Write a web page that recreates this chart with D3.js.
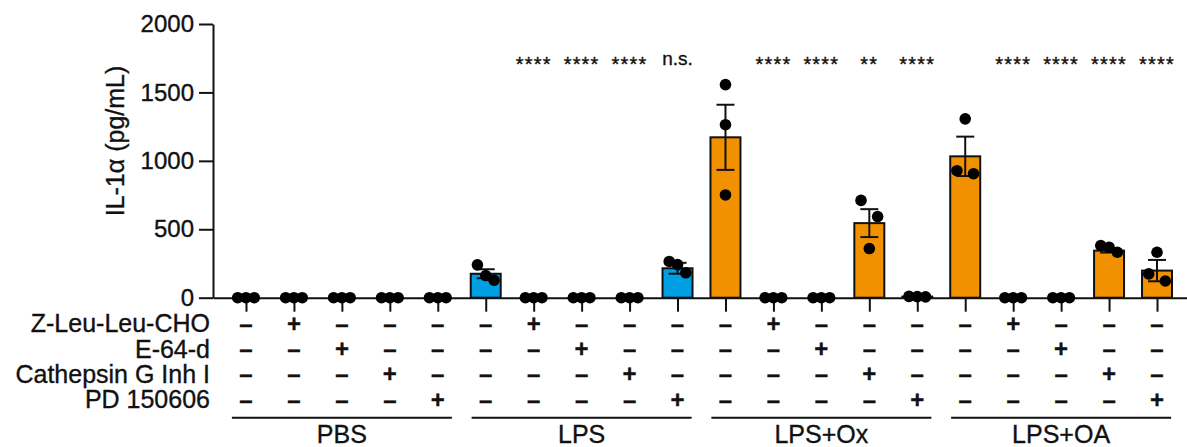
<!DOCTYPE html>
<html>
<head>
<meta charset="utf-8">
<script src="https://cdn.jsdelivr.net/npm/d3@7"></script>
<style>
  html, body { margin: 0; padding: 0; background: #fff; }
  svg text { font-family: "Liberation Sans", Arial, Helvetica, sans-serif; fill: #111; stroke: #111; stroke-width: 0.35px; }
</style>
</head>
<body>
<svg id="chart" width="1187" height="447"></svg>
<script>
// ---------- data ----------
const groups = ["PBS", "LPS", "LPS+Ox", "LPS+OA"];
const inhibitors = ["Z-Leu-Leu-CHO", "E-64-d", "Cathepsin G Inh I", "PD 150606"];
const conditions = ["none", "Z-Leu-Leu-CHO", "E-64-d", "Cathepsin G Inh I", "PD 150606"];
const yTicks = [0, 500, 1000, 1500, 2000];

// bar means (pg/mL), per group, per condition
const meansPBS   = [0, 0, 0, 0, 0];
const meansLPS   = [175, 0, 0, 0, 215];
const meansLPSOx = [1172, 0, 0, 545, 8];
const meansLPSOA = [1033, 0, 0, 344, 198];

// SEM
const semPBS   = [0, 0, 0, 0, 0];
const semLPS   = [33, 0, 0, 0, 40];
const semLPSOx = [238, 0, 0, 102, 2];
const semLPSOA = [144, 0, 0, 14, 78];

// replicate points
const ptsPBS   = [[0,0,0],[0,0,0],[0,0,0],[0,0,0],[0,0,0]];
const ptsLPS   = [[240,162,128],[0,0,0],[0,0,0],[0,0,0],[265,242,182]];
const ptsLPSOx = [[1557,1264,751],[0,0,0],[0,0,0],[711,593,359],[10,8,6]];
const ptsLPSOA = [[1307,928,906],[0,0,0],[0,0,0],[381,369,332],[332,174,122]];

// significance vs. untreated of same group
const sigPBS   = ["", "", "", "", ""];
const sigLPS   = ["", "****", "****", "****", "n.s."];
const sigLPSOx = ["", "****", "****", "**", "****"];
const sigLPSOA = ["", "****", "****", "****", "****"];

const colorPBS = "#009fe3", colorLPS = "#009fe3", colorOx = "#f29100", colorOA = "#f29100";

// ---------- build rows ----------
const means = [meansPBS, meansLPS, meansLPSOx, meansLPSOA];
const sems = [semPBS, semLPS, semLPSOx, semLPSOA];
const pts = [ptsPBS, ptsLPS, ptsLPSOx, ptsLPSOA];
const sigs = [sigPBS, sigLPS, sigLPSOx, sigLPSOA];
const colors = [colorPBS, colorLPS, colorOx, colorOA];

const rows = [];
groups.forEach((g, gi) => {
  conditions.forEach((c, ci) => {
    rows.push({ id: g + "|" + c, group: g, gi, ci, mean: means[gi][ci], sem: sems[gi][ci],
                pts: pts[gi][ci], sig: sigs[gi][ci], color: colors[gi] });
  });
});

// ---------- layout ----------
const svg = d3.select("#chart");
const x0 = 213, x1 = 1190, yTop = 24, yBase = 297.7;

const x = d3.scalePoint().domain(rows.map(d => d.id)).range([x0, x1]).padding(0.688);
const step = x.step();
const barW = step * 0.667;
const y = d3.scaleLinear().domain([0, 2000]).range([yBase, yTop]);

// y axis
const yAxis = svg.append("g").attr("transform", `translate(${x0},0)`)
  .call(d3.axisLeft(y).tickValues(yTicks).tickFormat(d3.format("d")).tickSize(14).tickSizeOuter(0).tickPadding(5));
yAxis.selectAll("path, line").attr("stroke", "#111").attr("stroke-width", 2);
yAxis.selectAll("text").style("font-size", "24px").attr("fill", "#111");

// y title
svg.append("text")
  .attr("transform", `translate(124,141) rotate(-90)`)
  .attr("text-anchor", "middle")
  .style("font-size", "25px")
  .text("IL-1α (pg/mL)");

// bars
svg.append("g").selectAll("rect").data(rows).join("rect")
  .attr("x", d => x(d.id) - barW / 2 + 1)
  .attr("width", barW - 2)
  .attr("y", d => y(d.mean))
  .attr("height", d => yBase - y(d.mean))
  .attr("fill", d => d.color)
  .attr("stroke", "#111")
  .attr("stroke-width", 2);

// x axis baseline + ticks
const xAxis = svg.append("g").attr("transform", `translate(0,${yBase})`)
  .call(d3.axisBottom(x).tickSize(14).tickSizeOuter(0).tickFormat(""));
xAxis.selectAll("path, line").attr("stroke", "#111").attr("stroke-width", 2);

// error bars
const capW = 18;
const eb = svg.append("g").selectAll("g").data(rows.filter(d => d.sem > 0)).join("g");
eb.append("line")
  .attr("x1", d => x(d.id)).attr("x2", d => x(d.id))
  .attr("y1", d => y(d.mean + d.sem)).attr("y2", d => y(Math.max(0, d.mean - d.sem)))
  .attr("stroke", "#111").attr("stroke-width", 2);
eb.append("line")
  .attr("x1", d => x(d.id) - capW / 2).attr("x2", d => x(d.id) + capW / 2)
  .attr("y1", d => y(d.mean + d.sem)).attr("y2", d => y(d.mean + d.sem))
  .attr("stroke", "#111").attr("stroke-width", 2);
eb.append("line")
  .attr("x1", d => x(d.id) - capW / 2).attr("x2", d => x(d.id) + capW / 2)
  .attr("y1", d => y(Math.max(0, d.mean - d.sem))).attr("y2", d => y(Math.max(0, d.mean - d.sem)))
  .attr("stroke", "#111").attr("stroke-width", 2);

// points: cluster overlapping ones horizontally
const dotR = 5.8, spread = 8.3, clusterGap = 18;
const dots = [];
rows.forEach(d => {
  const sorted = d.pts.slice().sort((a, b) => b - a);
  const clusters = [];
  sorted.forEach(v => {
    const last = clusters[clusters.length - 1];
    if (last && Math.abs(y(v) - y(last[last.length - 1])) < clusterGap) last.push(v);
    else clusters.push([v]);
  });
  clusters.forEach(cl => {
    const n = cl.length;
    cl.forEach((v, i) => {
      const off = n === 1 ? 0 : -spread + i * (2 * spread / (n - 1));
      dots.push({ cx: x(d.id) + off, v });
    });
  });
});
svg.append("g").selectAll("circle").data(dots).join("circle")
  .attr("cx", d => d.cx).attr("cy", d => y(d.v)).attr("r", dotR).attr("fill", "#000");

// significance labels
svg.append("g").selectAll("text").data(rows.filter(d => d.sig)).join("text")
  .attr("x", d => x(d.id))
  .attr("y", d => d.sig === "n.s." ? 64.5 : 71)
  .attr("text-anchor", "middle")
  .style("font-size", d => d.sig === "n.s." ? "19px" : "20px")
  .style("letter-spacing", d => d.sig === "n.s." ? "0px" : "1.2px")
  .text(d => d.sig);

// treatment table
const rowY = d3.scalePoint().domain(inhibitors).range([323.3, 399.3]);
svg.append("g").selectAll("text").data(inhibitors).join("text")
  .attr("x", 210).attr("y", d => rowY(d) + 9)
  .attr("text-anchor", "end")
  .style("font-size", "25px")
  .text(d => d);

const cells = [];
rows.forEach(d => inhibitors.forEach((inh, ri) => cells.push({ id: d.id, inh, plus: d.ci === ri + 1 })));
svg.append("g").selectAll("text").data(cells).join("text")
  .attr("x", d => x(d.id)).attr("y", d => rowY(d.inh) + 8.5)
  .attr("text-anchor", "middle")
  .style("font-size", "24px")
  .style("font-weight", "bold")
  .text(d => d.plus ? "+" : "–");

// group lines and labels
const gInfo = groups.map(g => {
  const ids = rows.filter(r => r.group === g).map(r => x(r.id));
  return { g, a: d3.min(ids), b: d3.max(ids) };
});
svg.append("g").selectAll("line").data(gInfo).join("line")
  .attr("x1", d => (d.a + d.b) / 2 - 110).attr("x2", d => (d.a + d.b) / 2 + 110)
  .attr("y1", 417.7).attr("y2", 417.7)
  .attr("stroke", "#111").attr("stroke-width", 2);
svg.append("g").selectAll("text").data(gInfo).join("text")
  .attr("x", d => (d.a + d.b) / 2).attr("y", 442.5)
  .attr("text-anchor", "middle")
  .style("font-size", "25px")
  .text(d => d.g);
</script>
</body>
</html>
